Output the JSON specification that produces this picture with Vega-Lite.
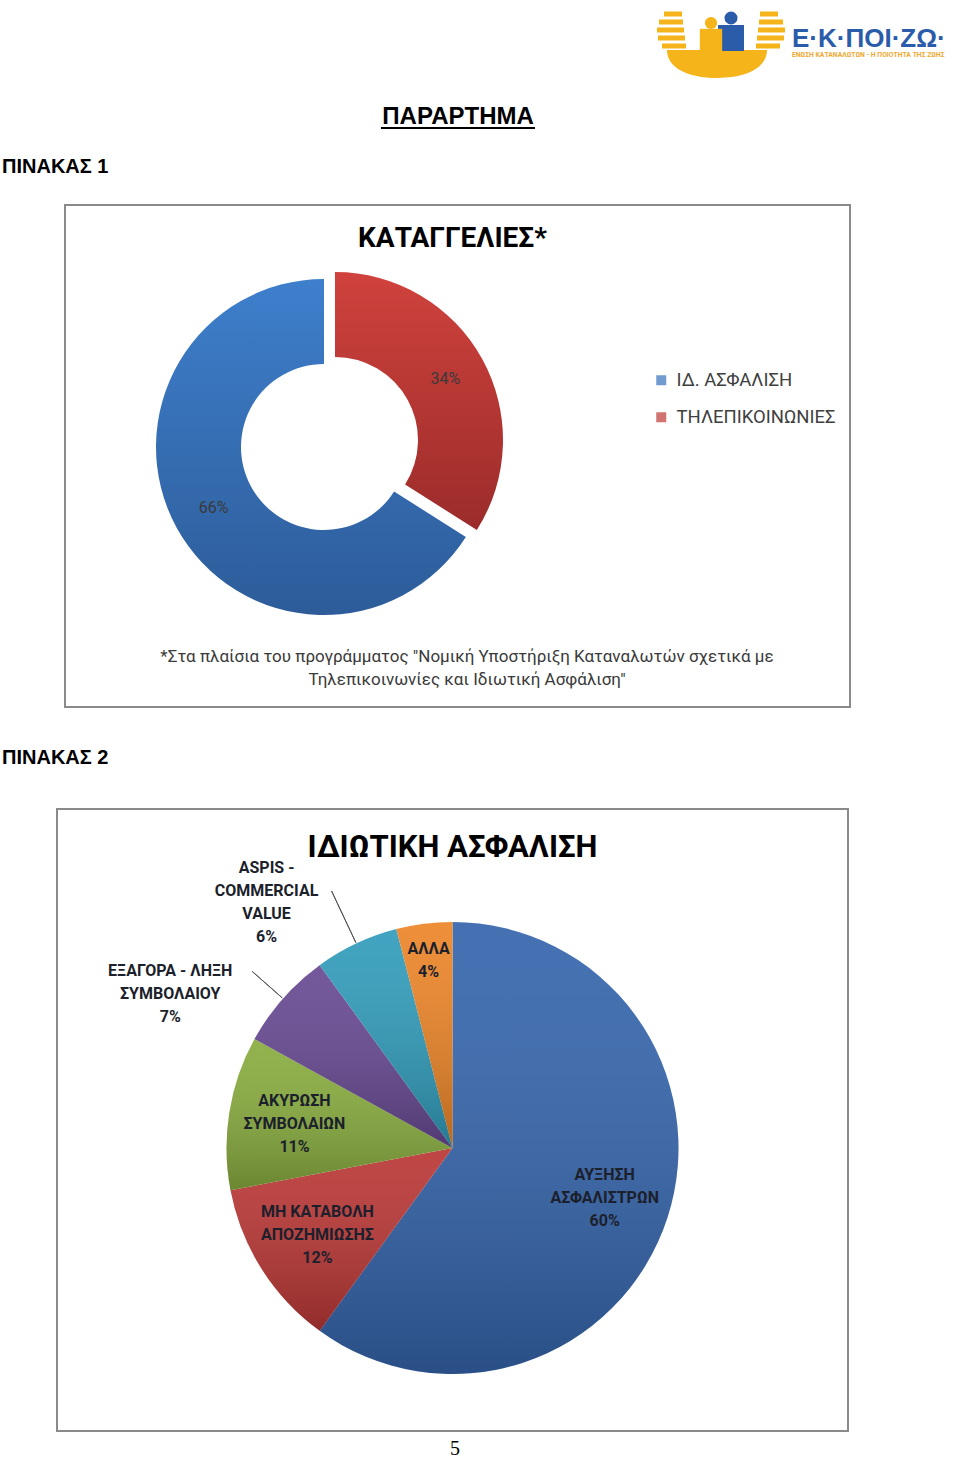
{
  "$schema": "https://vega.github.io/schema/vega-lite/v6.json",
  "background": "white",
  "padding": 0,
  "spacing": 0,
  "bounds": "full",
  "resolve": {"scale": {"color": "independent"}, "legend": {"color": "independent"}},
  "config": {"view": {"stroke": null}, "concat": {"spacing": 0}, "font": "Roboto"},
  "vconcat": [
    {
      "width": 960,
      "height": 204,
      "data": {"values": [{}]},
      "layer": [
        {"mark": {"type": "text", "text": "ΠΑΡΑΡΤΗΜΑ", "font": "Liberation Sans", "fontWeight": "bold", "fontSize": 24, "align": "center", "baseline": "alphabetic", "color": "#000000"}, "encoding": {"x": {"value": 458}, "y": {"value": 124}}},
        {"mark": {"type": "rule", "color": "#000000", "strokeWidth": 2}, "encoding": {"x": {"value": 381}, "x2": {"value": 535}, "y": {"value": 128}}},
        {"mark": {"type": "text", "text": "ΠΙΝΑΚΑΣ 1", "font": "Liberation Sans", "fontWeight": "bold", "fontSize": 20, "align": "left", "baseline": "alphabetic", "color": "#000000"}, "encoding": {"x": {"value": 2}, "y": {"value": 173}}},
        {"mark": {"type": "point", "shape": "M-0.5,-0.92 L0.4,-0.92 L0.4,-0.68 L-0.5,-0.68 Z M-0.75,-0.52 L0.45,-0.52 L0.45,-0.28 L-0.75,-0.28 Z M-0.85,-0.12 L0.5,-0.12 L0.5,0.12 L-0.85,0.12 Z M-0.8,0.28 L0.55,0.28 L0.55,0.52 L-0.8,0.52 Z M-0.6,0.68 L0.6,0.68 L0.6,0.92 L-0.6,0.92 Z", "size": 1600, "filled": true, "color": "#F5B41A", "opacity": 1}, "encoding": {"x": {"value": 674}, "y": {"value": 30}}},
        {"mark": {"type": "point", "shape": "M0.5,-0.92 L-0.4,-0.92 L-0.4,-0.68 L0.5,-0.68 Z M0.75,-0.52 L-0.45,-0.52 L-0.45,-0.28 L0.75,-0.28 Z M0.85,-0.12 L-0.5,-0.12 L-0.5,0.12 L0.85,0.12 Z M0.8,0.28 L-0.55,0.28 L-0.55,0.52 L0.8,0.52 Z M0.6,0.68 L-0.6,0.68 L-0.6,0.92 L0.6,0.92 Z", "size": 1600, "filled": true, "color": "#F5B41A", "opacity": 1}, "encoding": {"x": {"value": 768}, "y": {"value": 30}}},
        {"mark": {"type": "point", "shape": "M-1,0 L1,0 C1,0.35 0.6,0.56 0,0.56 C-0.6,0.56 -1,0.35 -1,0 Z", "size": 10000, "filled": true, "color": "#F5B41A", "opacity": 1}, "encoding": {"x": {"value": 717}, "y": {"value": 50}}},
        {"mark": {"type": "point", "shape": "square", "size": 676, "filled": true, "color": "#2B5CAA", "opacity": 1}, "encoding": {"x": {"value": 731}, "y": {"value": 38}}},
        {"mark": {"type": "point", "shape": "circle", "size": 170, "filled": true, "color": "#2B5CAA", "opacity": 1}, "encoding": {"x": {"value": 731}, "y": {"value": 18}}},
        {"mark": {"type": "point", "shape": "square", "size": 500, "filled": true, "color": "#F5B41A", "opacity": 1}, "encoding": {"x": {"value": 711}, "y": {"value": 40}}},
        {"mark": {"type": "point", "shape": "circle", "size": 150, "filled": true, "color": "#F5B41A", "opacity": 1}, "encoding": {"x": {"value": 711}, "y": {"value": 23}}},
        {"mark": {"type": "text", "text": "Ε·Κ·ΠΟΙ·ΖΩ·", "font": "Liberation Sans", "fontWeight": "bold", "fontSize": 26, "align": "left", "baseline": "alphabetic", "color": "#2B5CAA"}, "encoding": {"x": {"value": 792}, "y": {"value": 47}}},
        {"mark": {"type": "text", "text": "ΕΝΩΣΗ ΚΑΤΑΝΑΛΩΤΩΝ - Η ΠΟΙΟΤΗΤΑ ΤΗΣ ΖΩΗΣ", "font": "Roboto", "fontWeight": "bold", "fontSize": 6.8, "align": "left", "baseline": "alphabetic", "color": "#F0A830"}, "encoding": {"x": {"value": 792}, "y": {"value": 57}}}
      ]
    },
    {
      "hconcat": [
        {"width": 65, "height": 1, "data": {"values": []}, "mark": "point"},
        {
          "width": 785,
          "height": 502,
          "view": {"stroke": "#8a8a8a", "strokeWidth": 2},
          "title": {"text": "ΚΑΤΑΓΓΕΛΙΕΣ*", "offset": -48, "fontSize": 28, "font": "Roboto", "fontWeight": "bold", "color": "#000000", "anchor": "middle", "frame": "group", "dx": -5},
          "data": {"values": [
            {"cat": "ΙΔ. ΑΣΦΑΛΙΣΗ", "value": 66, "label": "66%"},
            {"cat": "ΤΗΛΕΠΙΚΟΙΝΩΝΙΕΣ", "value": 34, "label": "34%"}
          ]},
          "layer": [
            {
              "mark": {"type": "arc", "radius": 168, "radius2": 83,
                "fill": {"gradient": "linear", "x1": 0, "y1": 0, "x2": 0, "y2": 1, "stops": [{"offset": 0, "color": "#3E7FCC"}, {"offset": 1, "color": "#2D5C99"}]}},
              "encoding": {
                "theta": {"field": "value", "type": "quantitative", "stack": true},
                "order": {"field": "value", "sort": "ascending"},
                "detail": {"field": "cat"},
                "x": {"value": 259}, "y": {"value": 242},
                "opacity": {"condition": {"test": "datum.cat === 'ΙΔ. ΑΣΦΑΛΙΣΗ'", "value": 1}, "value": 0}
              }
            },
            {
              "mark": {"type": "arc", "radius": 168, "radius2": 83, "xOffset": 11, "yOffset": -7,
                "fill": {"gradient": "linear", "x1": 0, "y1": 0, "x2": 0, "y2": 1, "stops": [{"offset": 0, "color": "#D0423D"}, {"offset": 1, "color": "#9B2C2A"}]}},
              "encoding": {
                "theta": {"field": "value", "type": "quantitative", "stack": true},
                "order": {"field": "value", "sort": "ascending"},
                "detail": {"field": "cat"},
                "x": {"value": 259}, "y": {"value": 242},
                "opacity": {"condition": {"test": "datum.cat === 'ΤΗΛΕΠΙΚΟΙΝΩΝΙΕΣ'", "value": 1}, "value": 0}
              }
            },
            {
              "mark": {"type": "square", "size": 0},
              "encoding": {
                "color": {"field": "cat", "type": "nominal",
                  "scale": {"domain": ["ΙΔ. ΑΣΦΑΛΙΣΗ", "ΤΗΛΕΠΙΚΟΙΝΩΝΙΕΣ"], "range": ["#3670BA", "#BE3835"]},
                  "legend": {"orient": "none", "legendX": 652, "legendY": 166, "title": null, "symbolType": "square", "symbolSize": 100, "symbolStrokeWidth": 0, "labelFontSize": 18.5, "labelFont": "Roboto", "labelColor": "#404040", "rowPadding": 18, "labelOffset": 6, "padding": 0, "labelLimit": 300}}
              }
            },
            {
              "mark": {"type": "text", "radius": 126, "fontSize": 16, "font": "Roboto", "color": "#3a3a3a", "align": "center", "baseline": "middle"},
              "encoding": {
                "theta": {"field": "value", "type": "quantitative", "stack": true},
                "order": {"field": "value", "sort": "ascending"},
                "detail": {"field": "cat"},
                "x": {"value": 259}, "y": {"value": 242},
                "text": {"field": "label"},
                "opacity": {"condition": {"test": "datum.cat === 'ΙΔ. ΑΣΦΑΛΙΣΗ'", "value": 1}, "value": 0}
              }
            },
            {
              "mark": {"type": "text", "radius": 126, "fontSize": 16, "font": "Roboto", "color": "#3a3a3a", "align": "center", "baseline": "middle", "xOffset": 11, "yOffset": -7},
              "encoding": {
                "theta": {"field": "value", "type": "quantitative", "stack": true},
                "order": {"field": "value", "sort": "ascending"},
                "detail": {"field": "cat"},
                "x": {"value": 259}, "y": {"value": 242},
                "text": {"field": "label"},
                "opacity": {"condition": {"test": "datum.cat === 'ΤΗΛΕΠΙΚΟΙΝΩΝΙΕΣ'", "value": 1}, "value": 0}
              }
            },
            {
              "data": {"values": [{}]},
              "mark": {"type": "text", "text": ["*Στα πλαίσια του προγράμματος \"Νομική Υποστήριξη Καταναλωτών σχετικά με", "Τηλεπικοινωνίες και Ιδιωτική Ασφάλιση\""], "fontSize": 17, "font": "Roboto", "color": "#3a3a3a", "align": "center", "baseline": "alphabetic", "lineHeight": 23},
              "encoding": {"x": {"value": 402}, "y": {"value": 457}}
            }
          ]
        }
      ],
      "spacing": 0,
      "bounds": "flush"
    },
    {
      "width": 960,
      "height": 100,
      "data": {"values": [{}]},
      "mark": {"type": "text", "text": "ΠΙΝΑΚΑΣ 2", "font": "Liberation Sans", "fontWeight": "bold", "fontSize": 20, "align": "left", "baseline": "alphabetic", "color": "#000000"},
      "encoding": {"x": {"value": 2}, "y": {"value": 56}}
    },
    {
      "hconcat": [
        {"width": 57, "height": 1, "data": {"values": []}, "mark": "point"},
        {
          "width": 791,
          "height": 622,
          "view": {"stroke": "#8a8a8a", "strokeWidth": 2},
          "title": {"text": "ΙΔΙΩΤΙΚΗ ΑΣΦΑΛΙΣΗ", "offset": -55, "fontSize": 31, "font": "Roboto", "fontWeight": "bold", "color": "#000000", "anchor": "middle", "frame": "group"},
          "data": {"values": [
            {"cat": "ΑΥΞΗΣΗ ΑΣΦΑΛΙΣΤΡΩΝ", "value": 60, "label": "ΑΥΞΗΣΗ\nΑΣΦΑΛΙΣΤΡΩΝ\n60%"},
            {"cat": "ΜΗ ΚΑΤΑΒΟΛΗ ΑΠΟΖΗΜΙΩΣΗΣ", "value": 12, "label": "ΜΗ ΚΑΤΑΒΟΛΗ\nΑΠΟΖΗΜΙΩΣΗΣ\n12%"},
            {"cat": "ΑΚΥΡΩΣΗ ΣΥΜΒΟΛΑΙΩΝ", "value": 11, "label": "ΑΚΥΡΩΣΗ\nΣΥΜΒΟΛΑΙΩΝ\n11%"},
            {"cat": "ΕΞΑΓΟΡΑ - ΛΗΞΗ ΣΥΜΒΟΛΑΙΟΥ", "value": 7, "label": "ΕΞΑΓΟΡΑ - ΛΗΞΗ\nΣΥΜΒΟΛΑΙΟΥ\n7%"},
            {"cat": "ASPIS - COMMERCIAL VALUE", "value": 6, "label": "ASPIS -\nCOMMERCIAL\nVALUE\n6%"},
            {"cat": "ΑΛΛΑ", "value": 4, "label": "ΑΛΛΑ\n4%"}
          ]},
          "layer": [
            {
              "mark": {"type": "arc", "radius": 226},
              "encoding": {
                "theta": {"field": "value", "type": "quantitative", "stack": true},
                "order": {"field": "value", "sort": "descending"},
                "detail": {"field": "cat"},
                "y": {"value": 339},
                "color": {"field": "cat", "type": "nominal", "legend": null,
                  "scale": {"domain": ["ΑΥΞΗΣΗ ΑΣΦΑΛΙΣΤΡΩΝ", "ΜΗ ΚΑΤΑΒΟΛΗ ΑΠΟΖΗΜΙΩΣΗΣ", "ΑΚΥΡΩΣΗ ΣΥΜΒΟΛΑΙΩΝ", "ΕΞΑΓΟΡΑ - ΛΗΞΗ ΣΥΜΒΟΛΑΙΟΥ", "ASPIS - COMMERCIAL VALUE", "ΑΛΛΑ"],
                    "range": ["#3565AC", "#B93735", "#88AC3E", "#674992", "#319CBB", "#EC8528"]}}
              }
            },
            {
              "mark": {"type": "arc", "radius": 226,
                "fill": {"gradient": "linear", "x1": 0, "y1": 0, "x2": 0, "y2": 1, "stops": [{"offset": 0, "color": "rgba(255,255,255,0.08)"}, {"offset": 1, "color": "rgba(0,0,0,0.22)"}]}},
              "encoding": {
                "theta": {"field": "value", "type": "quantitative", "stack": true},
                "order": {"field": "value", "sort": "descending"},
                "detail": {"field": "cat"},
                "y": {"value": 339}
              }
            },
            {
              "mark": {"type": "arc", "radius": 267, "radius2": 227, "padAngle": 0.6, "fillOpacity": 0, "stroke": "#555555", "strokeWidth": 1},
              "encoding": {
                "theta": {"field": "value", "type": "quantitative", "stack": true},
                "order": {"field": "value", "sort": "descending"},
                "detail": {"field": "cat"},
                "y": {"value": 339},
                "opacity": {"condition": {"test": "datum.cat === 'ΕΞΑΓΟΡΑ - ΛΗΞΗ ΣΥΜΒΟΛΑΙΟΥ'", "value": 1}, "value": 0}
              }
            },
            {
              "mark": {"type": "arc", "radius": 284, "radius2": 227, "padAngle": 0.6, "fillOpacity": 0, "stroke": "#555555", "strokeWidth": 1},
              "encoding": {
                "theta": {"field": "value", "type": "quantitative", "stack": true},
                "order": {"field": "value", "sort": "descending"},
                "detail": {"field": "cat"},
                "y": {"value": 339},
                "opacity": {"condition": {"test": "datum.cat === 'ASPIS - COMMERCIAL VALUE'", "value": 1}, "value": 0}
              }
            },
            {
              "mark": {"type": "text", "radius": 160, "dy": -17, "lineBreak": "\n", "lineHeight": 23, "fontSize": 16, "font": "Roboto", "fontWeight": "bold", "color": "#1c1f2c", "align": "center", "baseline": "alphabetic"},
              "encoding": {
                "theta": {"field": "value", "type": "quantitative", "stack": true},
                "order": {"field": "value", "sort": "descending"},
                "detail": {"field": "cat"},
                "y": {"value": 339},
                "text": {"field": "label"},
                "opacity": {"condition": {"test": "datum.value >= 11", "value": 1}, "value": 0}
              }
            },
            {
              "mark": {"type": "text", "radius": 191, "dy": -5, "lineBreak": "\n", "lineHeight": 23, "fontSize": 16, "font": "Roboto", "fontWeight": "bold", "color": "#1c1f2c", "align": "center", "baseline": "alphabetic"},
              "encoding": {
                "theta": {"field": "value", "type": "quantitative", "stack": true},
                "order": {"field": "value", "sort": "descending"},
                "detail": {"field": "cat"},
                "y": {"value": 339},
                "text": {"field": "label"},
                "opacity": {"condition": {"test": "datum.cat === 'ΑΛΛΑ'", "value": 1}, "value": 0}
              }
            },
            {
              "mark": {"type": "text", "radius": 267, "dx": -82, "dy": 5, "lineBreak": "\n", "lineHeight": 23, "fontSize": 16, "font": "Roboto", "fontWeight": "bold", "color": "#1c1f2c", "align": "center", "baseline": "alphabetic"},
              "encoding": {
                "theta": {"field": "value", "type": "quantitative", "stack": true},
                "order": {"field": "value", "sort": "descending"},
                "detail": {"field": "cat"},
                "y": {"value": 339},
                "text": {"field": "label"},
                "opacity": {"condition": {"test": "datum.cat === 'ΕΞΑΓΟΡΑ - ΛΗΞΗ ΣΥΜΒΟΛΑΙΟΥ'", "value": 1}, "value": 0}
              }
            },
            {
              "mark": {"type": "text", "radius": 284, "dx": -65, "dy": -18, "lineBreak": "\n", "lineHeight": 23, "fontSize": 16, "font": "Roboto", "fontWeight": "bold", "color": "#1c1f2c", "align": "center", "baseline": "alphabetic"},
              "encoding": {
                "theta": {"field": "value", "type": "quantitative", "stack": true},
                "order": {"field": "value", "sort": "descending"},
                "detail": {"field": "cat"},
                "y": {"value": 339},
                "text": {"field": "label"},
                "opacity": {"condition": {"test": "datum.cat === 'ASPIS - COMMERCIAL VALUE'", "value": 1}, "value": 0}
              }
            }
          ]
        }
      ],
      "spacing": 0,
      "bounds": "flush"
    },
    {
      "width": 960,
      "height": 26,
      "data": {"values": [{}]},
      "mark": {"type": "text", "text": "5", "font": "Liberation Serif", "fontSize": 20, "align": "center", "baseline": "alphabetic", "color": "#000000"},
      "encoding": {"x": {"value": 455}, "y": {"value": 22}}
    }
  ]
}
